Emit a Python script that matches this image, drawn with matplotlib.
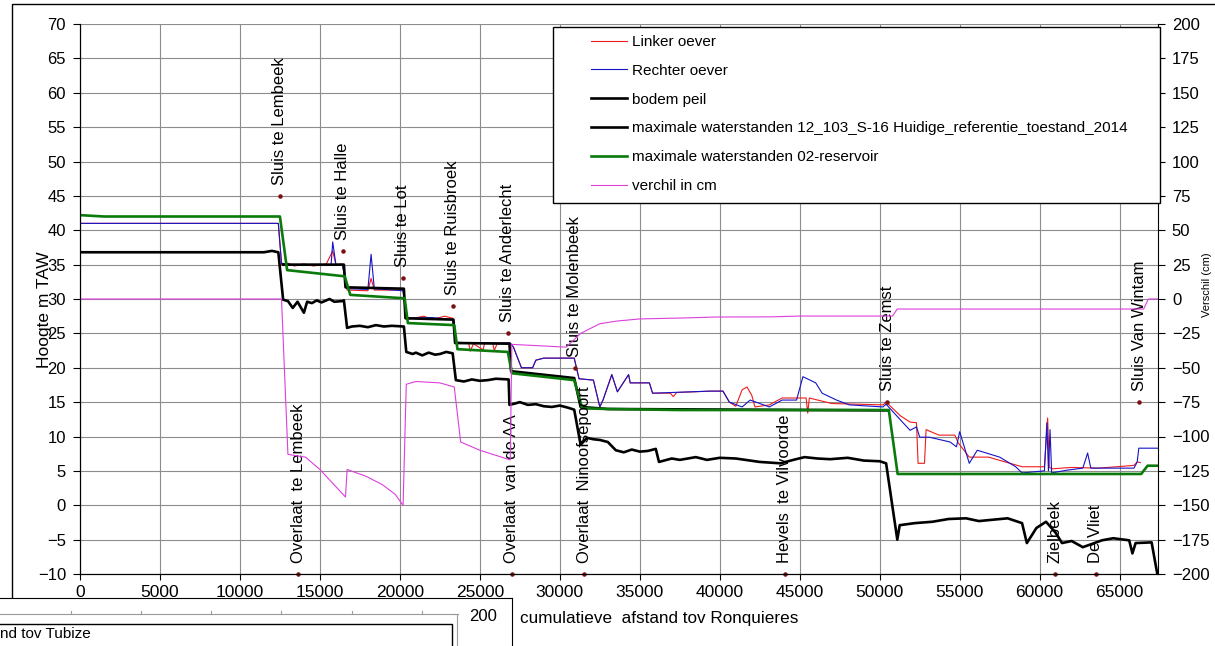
import matplotlib
matplotlib.use("Agg")
import matplotlib.pyplot as plt
from matplotlib.patches import Rectangle

plt.rcParams["font.family"] = ["Liberation Sans", "DejaVu Sans"]

# --- data (distance in m from Ronquieres, height in m TAW) ---
green_x = [0, 1500, 12500, 12950, 16550, 16900, 20300, 20500, 23400, 23600, 26750, 27000,
           30900, 31400, 33000, 37500, 50570, 51120, 66350, 66750, 67400]
green_y = [42.2, 42.0, 42.0, 34.2, 33.3, 30.6, 30.1, 26.5, 26.2, 22.7, 22.3, 19.2,
           18.2, 14.1, 14.0, 13.85, 13.85, 4.55, 4.55, 5.75, 5.75]

huidig_x = [12700, 16500, 16600, 20250, 20350, 23350, 23450, 26850, 26950, 30900, 31300, 33000, 50500]
huidig_y = [35.0, 35.0, 31.7, 31.5, 27.2, 27.0, 23.6, 23.5, 19.5, 18.5, 14.3, 14.0, 13.8]

bodem_x = [0, 11500, 12000, 12400, 12700, 13000, 13300, 13600, 14000, 14200, 14500, 14800,
           15100, 15600, 15900, 16400, 16500, 16700, 17000, 17500, 18000, 18500, 19000,
           19500, 20250, 20400, 20800, 21000, 21400, 21800, 22200, 22500, 22900, 23300,
           23500, 24000, 24500, 25000, 25500, 26000, 26800, 26850, 27200, 27500, 28000,
           28500, 29000, 29500, 30000, 30500, 30900, 31300, 31700, 32100, 32500, 33000,
           33500, 34000, 34500, 35000, 35500, 36000, 36200, 37000, 37500, 38500, 39200,
           40000, 41000, 42500, 43800, 44600, 45300, 46100, 46900, 48000, 49000, 50000,
           50400, 51100, 51250, 52200, 53300, 54300, 55400, 56200, 57100, 58000, 58900,
           59200, 59800, 60400, 61000, 61400, 62000, 62700, 63300, 63900, 64600, 65600,
           65800, 66000, 67000, 67350]
bodem_y = [36.8, 36.8, 37.0, 36.8, 29.9, 29.7, 28.7, 29.6, 28.0, 29.6, 29.4, 29.8,
           29.5, 30.0, 29.6, 29.7, 29.8, 25.8, 26.0, 26.1, 25.9, 26.2, 26.0,
           26.1, 26.0, 22.3, 22.0, 22.2, 21.8, 22.2, 21.9, 22.0, 22.3, 22.1,
           18.2, 18.0, 18.3, 18.1, 18.2, 18.4, 18.3, 14.6, 14.8, 15.0, 14.6,
           14.7, 14.4, 14.3, 14.5, 14.2, 13.9, 8.8, 9.8, 9.6, 9.5, 9.2,
           8.0, 7.7, 8.1, 7.8, 7.9, 8.2, 6.3, 6.8, 6.6, 7.0, 6.6,
           6.9, 6.8, 6.3, 6.1, 6.6, 7.0, 6.8, 6.7, 6.9, 6.5, 6.4,
           6.1, -5.0, -2.9, -2.6, -2.4, -2.0, -1.9, -2.3, -2.1, -1.9, -2.6,
           -5.5, -3.3, -2.4, -4.0, -5.5, -5.2, -6.1, -5.6, -5.1, -4.8, -5.1,
           -7.0, -5.5, -5.4, -9.9]

blue_x = [0, 12400, 12600, 13500, 14500, 15700, 15800, 16000, 16400, 16700, 18000, 18200,
          18400, 20200, 20400, 22000, 23300, 23500, 25000, 26900, 27100, 27600, 28300,
          28500, 29000, 30900, 31200, 32100, 32500, 32700, 33250, 33600, 34300, 34400,
          35600, 35800, 39400, 40200, 40600, 41400, 41900, 43100, 43900, 44800, 45200,
          46000, 46400, 47300, 48100, 50200, 50400, 51300, 51900, 52300, 52500, 53100,
          54400, 54800, 55000, 55600, 56100, 57500, 58500, 58900, 60300, 60450, 60550,
          60650, 60750, 61700, 62700, 63000, 63200, 65900, 66100, 66200, 67400]
blue_y = [41.0, 41.0, 35.2, 34.9, 35.0, 35.0, 38.3, 35.0, 35.0, 31.5, 31.4, 36.5,
          31.5, 31.2, 27.2, 27.3, 27.0, 23.7, 23.6, 23.6, 23.0, 20.0, 20.0,
          21.1, 21.4, 21.4, 18.4, 18.2, 14.3, 15.3, 19.0, 16.5, 19.0, 17.8,
          17.8, 16.3, 16.6, 16.6, 15.0, 14.3, 15.3, 14.3, 15.3, 15.3, 18.7,
          17.8, 16.3, 15.3, 14.6, 14.3, 14.7, 12.4, 10.9, 11.4, 9.9, 9.9,
          9.2, 8.5, 10.7, 6.1, 8.0, 7.0, 5.6, 4.7, 5.0, 12.0, 5.0,
          11.0, 4.7, 5.1, 5.4, 7.6, 5.4, 5.4, 6.3, 8.3, 8.3]

red_x = [0, 12400, 12600, 13000, 13400, 14000, 14600, 15400, 15800, 16000, 16400, 16700,
         18000, 18200, 18400, 20200, 20400, 21500, 22000, 22800, 23300, 23500, 24300,
         24400, 24600, 25200, 25300, 25800, 25900, 26100, 26900, 27100, 27600, 28300,
         28500, 29000, 30900, 31200, 32100, 32500, 32700, 33250, 33600, 34300, 34400,
         35600, 35800, 36900, 37100, 37300, 39400, 40200, 40600, 41000, 41400, 41700,
         42000, 42200, 43100, 43900, 45400, 45500, 45600, 47000, 50200, 50400, 51300,
         51900, 52300, 52400, 52800, 52900, 53700, 54700, 54900, 55600, 56800, 58900,
         60300, 60500, 60600, 60800, 62000, 63700, 65900, 66100, 66300]
red_y = [41.0, 41.0, 35.0, 35.2, 34.8, 35.1, 34.8, 35.1, 37.0, 35.0, 35.1, 31.3,
         31.2, 33.0, 31.3, 31.3, 27.0, 27.5, 27.0, 27.5, 27.2, 23.6, 23.6,
         22.4, 23.5, 22.6, 23.6, 23.6, 22.5, 23.6, 23.6, 23.0, 20.0, 20.0,
         21.1, 21.4, 21.4, 18.4, 18.2, 14.3, 15.3, 19.0, 16.5, 19.0, 17.8,
         17.8, 16.3, 16.3, 15.8, 16.4, 16.6, 16.6, 15.0, 14.4, 16.8, 17.2,
         16.0, 14.3, 14.6, 15.6, 15.6, 13.4, 15.6, 14.8, 14.6, 15.0, 13.0,
         12.1, 12.0, 6.1, 6.1, 11.0, 10.2, 10.2, 9.1, 7.0, 7.0, 5.6,
         5.6, 12.7, 5.5, 5.3, 5.5, 5.4, 5.8, 6.3, 6.2]

# verschil in cm (right axis)
diff_x = [0, 12600, 13000, 14100, 15000, 16600, 16700, 17900, 18900, 19700, 20200, 20400,
          21000, 22500, 23400, 23800, 25000, 26900, 27000, 30400, 31300, 32500, 33600,
          35000, 37700, 39800, 43100, 45000, 50800, 51100, 66500, 66800, 67400]
diff_y = [0, 0, -113, -115, -124, -144, -124, -129, -135, -142, -150, -62,
          -60, -61, -64, -104, -110, -117, -33, -35, -25, -18, -16,
          -14.5, -13.8, -13.1, -13.0, -12.4, -12.4, -7.3, -7.3, 0, 0]

sluis_names = ["Sluis te Lembeek", "Sluis te Halle", "Sluis te Lot", "Sluis te Ruisbroek",
               "Sluis te Anderlecht", "Sluis te Molenbeek", "Sluis te Zemst", "Sluis Van Wintam"]
sluis_x = [12500, 16420, 20170, 23290, 26730, 30920, 50480, 66230]
sluis_y = [45, 37, 33, 29, 25, 20, 15, 15]

overlaat_names = ["Overlaat  te Lembeek", "Overlaat  van de AA", "Overlaat  Ninoofsepoort",
                  "Hevels  te Vilvoorde", "Zielbeek", "De Vliet"]
overlaat_x = [13650, 26980, 31520, 44060, 60940, 63500]
overlaat_y = [-10, -10, -10, -10, -10, -10]

W, H = 1215, 646


def fx(px):
    return px / W


def fy(py):
    return 1 - py / H


fig = plt.figure(figsize=(W / 100, H / 100), dpi=100)

# outer chart frame (only left and top edges are visible)
fig.patches.append(Rectangle((fx(12), fy(700)), 2, fy(4) - fy(700), transform=fig.transFigure,
                             fill=False, edgecolor="black", linewidth=1.0, zorder=0))

ax = fig.add_axes([fx(80), fy(574), (1158 - 80) / W, (574 - 24) / H])
ax.set_xlim(0, 67400)
ax.set_ylim(-10, 70)
ax.set_xticks(range(0, 67000, 5000))
ax.set_yticks(range(-10, 71, 5))
ax.grid(True, color="#8c8c8c", linewidth=0.8)
ax.set_axisbelow(True)
ax.spines["top"].set_visible(False)
ax.spines["right"].set_visible(False)
ax.tick_params(axis="y", direction="out", length=5, width=0.8, labelsize=12, pad=5)
ax.tick_params(axis="x", direction="out", length=4, width=0.8, labelsize=12.5, pad=4)

lw_thin, lw_thick = 0.8, 1.9
ax.plot(red_x, red_y, color="#ee1c1c", lw=lw_thin, label="Linker oever")
ax.plot(blue_x, blue_y, color="#1414c8", lw=lw_thin, label="Rechter oever")
ax.plot(bodem_x, bodem_y, color="black", lw=lw_thick, label="bodem peil")
ax.plot(huidig_x, huidig_y, color="black", lw=lw_thick,
        label="maximale waterstanden 12_103_S-16 Huidige_referentie_toestand_2014")
ax.plot(green_x, green_y, color="#0a7a0a", lw=lw_thick, label="maximale waterstanden 02-reservoir")

ax.scatter(sluis_x, sluis_y, s=5, color="#7a1010", zorder=3)
ax.scatter(overlaat_x, overlaat_y, s=5, color="#7a1010", zorder=3, clip_on=False)
for name, x, y in zip(sluis_names + overlaat_names, sluis_x + overlaat_x, sluis_y + overlaat_y):
    ax.annotate(name, (x, y), xytext=(0, 11), textcoords="offset pixels", rotation=90,
                ha="center", va="bottom", fontsize=12, color="black")

ax2 = ax.twinx()
ax2.set_ylim(-200, 200)
ax2.set_yticks(range(-200, 201, 25))
ax2.tick_params(axis="y", direction="out", length=5, width=0.8, labelsize=12, pad=5)
ax2.spines["top"].set_visible(False)
ax2.plot(diff_x, diff_y, color="#dd3fdd", lw=lw_thin, label="verchil in cm")

# legend with Excel style box
ax2.add_patch(Rectangle((fx(553), fy(203)), fx(1160) - fx(553), fy(27) - fy(203),
                        transform=fig.transFigure, facecolor="white", edgecolor="black",
                        linewidth=1.0, zorder=4.5, clip_on=False))
handles = ax.get_lines() + ax2.get_lines()
leg = ax2.legend(handles=handles, loc="upper left", bbox_to_anchor=(fx(591), fy(35)),
                 bbox_transform=fig.transFigure, frameon=False, fontsize=11,
                 handlelength=2.35, handletextpad=0.35, labelspacing=0.97,
                 borderpad=0, borderaxespad=0)
leg.set_zorder(5)

fig.text(fx(44), fy(310), "Hoogte m TAW", rotation=90, ha="center", va="center", fontsize=12.5)
fig.text(fx(1207), fy(285), "Verschil (cm)", rotation=90, ha="center", va="center", fontsize=8)
fig.text(fx(520), fy(619), "cumulatieve  afstand tov Ronquieres", ha="left", va="center", fontsize=12.3)

# piece of an overlapping second chart at the bottom left
ov = fig.add_axes([0, 0, fx(512), fy(598)], zorder=10)
ov.set_xlim(0, 512)
ov.set_ylim(646, 598)
ov.set_xticks([])
ov.set_yticks([])
ov.spines["left"].set_visible(False)
ov.spines["bottom"].set_visible(False)
ov.plot([0, 455], [614, 614], color="#9a9a9a", lw=0.8)
for tx in [71, 141, 211, 281, 352, 422]:
    ov.plot([tx, tx], [611, 614], color="#9a9a9a", lw=0.8)
ov.plot([0, 452, 452], [624, 624, 646], color="black", lw=1.0)
ov.plot([457, 457], [614, 646], color="#9a9a9a", lw=0.8)
ov.plot([452, 458], [614, 614], color="#9a9a9a", lw=0.8)
ov.text(483, 616, "200", ha="center", va="center", fontsize=12)
ov.text(0, 634, "nd tov Tubize", ha="left", va="center", fontsize=11)

fig.savefig("out.png", dpi=100)
